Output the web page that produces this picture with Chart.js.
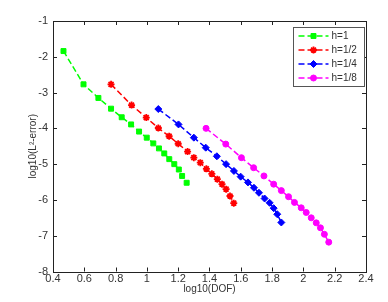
<!DOCTYPE html>
<html>
<head>
<meta charset="utf-8">
<script src="https://cdn.jsdelivr.net/npm/chart.js@4/dist/chart.umd.min.js"></script>
<style>
    html, body { margin: 0; padding: 0; background: #fff; }
    #wrap { width: 388px; height: 302px; }
</style>
</head>
<body>
<div id="wrap"><canvas id="conv"></canvas></div>
<script>
// log10(DOF) and log10(L2 error) per mesh size
const seriesNames = ['h=1', 'h=1/2', 'h=1/4', 'h=1/8'];

const dofH1 = [0.467, 0.595, 0.690, 0.771, 0.839, 0.899, 0.950, 0.999, 1.041, 1.077, 1.111, 1.143, 1.175, 1.204, 1.225, 1.254];
const errH1 = [-1.84, -2.77, -3.15, -3.45, -3.69, -3.89, -4.09, -4.26, -4.42, -4.56, -4.70, -4.86, -5.00, -5.15, -5.33, -5.52];

const dofH2 = [0.771, 0.902, 0.996, 1.073, 1.142, 1.200, 1.260, 1.300, 1.341, 1.380, 1.415, 1.450, 1.480, 1.506, 1.531, 1.555];
const errH2 = [-2.77, -3.35, -3.70, -3.99, -4.22, -4.43, -4.65, -4.82, -4.96, -5.13, -5.27, -5.42, -5.56, -5.70, -5.89, -6.09];

const dofH4 = [1.073, 1.202, 1.300, 1.376, 1.447, 1.506, 1.556, 1.599, 1.646, 1.684, 1.716, 1.752, 1.784, 1.810, 1.833, 1.859];
const errH4 = [-3.46, -3.89, -4.26, -4.54, -4.78, -5.00, -5.19, -5.35, -5.51, -5.66, -5.80, -5.96, -6.08, -6.23, -6.40, -6.63];

const dofH8 = [1.378, 1.504, 1.604, 1.682, 1.748, 1.810, 1.859, 1.905, 1.943, 1.986, 2.018, 2.050, 2.082, 2.109, 2.134, 2.162];
const errH8 = [-4.00, -4.44, -4.82, -5.10, -5.33, -5.56, -5.74, -5.91, -6.07, -6.22, -6.35, -6.50, -6.64, -6.78, -6.96, -7.18];

const xTicks = [0.4, 0.6, 0.8, 1, 1.2, 1.4, 1.6, 1.8, 2, 2.2, 2.4];
const yTicks = [-1, -2, -3, -4, -5, -6, -7, -8];

const pts = (xs, ys) => xs.map((x, i) => ({ x: x, y: ys[i] }));

function line(label, data, color, style, radius) {
    return {
        label: label,
        data: data,
        showLine: true,
        borderColor: color,
        backgroundColor: color,
        borderWidth: 1.5,
        borderDash: [6, 3],
        pointStyle: style,
        pointRadius: radius,
        pointBorderWidth: style === 'star' ? 1.8 : 1,
        pointBorderColor: color,
        pointBackgroundColor: color
    };
}

// matlab style box, inward ticks on all four sides
const boxPlugin = {
    id: 'box',
    afterDraw(chart) {
        const ctx = chart.ctx;
        const a = chart.chartArea;
        const xs = chart.scales.x, ys = chart.scales.y;
        ctx.save();
        ctx.strokeStyle = '#222';
        ctx.lineWidth = 1;
        ctx.beginPath();
        xTicks.forEach(v => {
            const p = Math.round(xs.getPixelForValue(v)) + 0.5;
            ctx.moveTo(p, a.bottom); ctx.lineTo(p, a.bottom - 4);
            ctx.moveTo(p, a.top); ctx.lineTo(p, a.top + 4);
        });
        yTicks.forEach(v => {
            const p = Math.round(ys.getPixelForValue(v)) + 0.5;
            ctx.moveTo(a.left, p); ctx.lineTo(a.left + 4, p);
            ctx.moveTo(a.right, p); ctx.lineTo(a.right - 4, p);
        });
        ctx.stroke();
        ctx.strokeRect(Math.round(a.left) + 0.5, Math.round(a.top) + 0.5,
            Math.round(a.right - a.left), Math.round(a.bottom - a.top));

        // legend
        const bw = 71, bh = 59;
        const bx = Math.round(a.right) - bw - 1.5, by = Math.round(a.top) + 6.5;
        ctx.fillStyle = '#fff';
        ctx.fillRect(bx, by, bw, bh);
        ctx.strokeStyle = '#555';
        ctx.strokeRect(bx, by, bw, bh);
        ctx.font = '10px "Liberation Sans", Arial, sans-serif';
        ctx.textBaseline = 'middle';
        chart.data.datasets.forEach((ds, i) => {
            const yy = by + 8.5 + i * 14;
            ctx.strokeStyle = ds.borderColor;
            ctx.lineWidth = 1.5;
            ctx.setLineDash([6, 3]);
            ctx.beginPath();
            ctx.moveTo(bx + 5, yy); ctx.lineTo(bx + 35, yy);
            ctx.stroke();
            ctx.setLineDash([]);
            ctx.fillStyle = ds.borderColor;
            ctx.lineWidth = ds.pointBorderWidth;
            Chart.helpers.drawPoint(ctx, {
                pointStyle: ds.pointStyle, radius: ds.pointRadius, borderWidth: ds.pointBorderWidth
            }, bx + 20, yy);
            ctx.fillStyle = '#333';
            ctx.fillText(ds.label, bx + 38, yy + 0.5);
        });
        ctx.restore();
    }
};

new Chart(document.getElementById('conv'), {
    type: 'scatter',
    data: {
        datasets: [
            line(seriesNames[0], pts(dofH1, errH1), '#00ff00', 'rect', 3.5),
            line(seriesNames[1], pts(dofH2, errH2), '#ff0000', 'star', 3.5),
            line(seriesNames[2], pts(dofH4, errH4), '#0000ff', 'rectRot', 3.5),
            line(seriesNames[3], pts(dofH8, errH8), '#ff00ff', 'circle', 3)
        ]
    },
    options: {
        responsive: true,
        maintainAspectRatio: false,
        animation: false,
        layout: {
            padding: { top: 21, right: 22, left: 0, bottom: 0 }
        },
        plugins: {
            legend: { display: false },
            tooltip: { enabled: false }
        },
        scales: {
            x: {
                type: 'linear',
                min: 0.4,
                max: 2.4,
                afterBuildTicks: s => { s.ticks = xTicks.map(v => ({ value: v })); },
                afterFit: s => { s.height = 30.5; },
                grid: { display: false, drawTicks: false },
                border: { display: false },
                ticks: {
                    color: '#333',
                    padding: 1,
                    font: { family: '"Liberation Sans", Arial, sans-serif', size: 11 },
                    callback: v => String(Math.round(v * 10) / 10)
                },
                title: {
                    display: true,
                    text: 'log10(DOF)',
                    color: '#333',
                    padding: { top: 0, bottom: 7 },
                    font: { family: '"Liberation Sans", Arial, sans-serif', size: 10 }
                }
            },
            y: {
                type: 'linear',
                min: -8,
                max: -1,
                afterBuildTicks: s => { s.ticks = yTicks.map(v => ({ value: v })); },
                afterFit: s => { s.width = 53; },
                grid: { display: false, drawTicks: false },
                border: { display: false },
                ticks: {
                    color: '#333',
                    padding: 5,
                    font: { family: '"Liberation Sans", Arial, sans-serif', size: 11 }
                },
                title: {
                    display: true,
                    text: 'log10(L²-error)',
                    color: '#333',
                    padding: { top: 27, bottom: 0 },
                    font: { family: '"Liberation Sans", Arial, sans-serif', size: 10 }
                }
            }
        }
    },
    plugins: [boxPlugin]
});
</script>
</body>
</html>
